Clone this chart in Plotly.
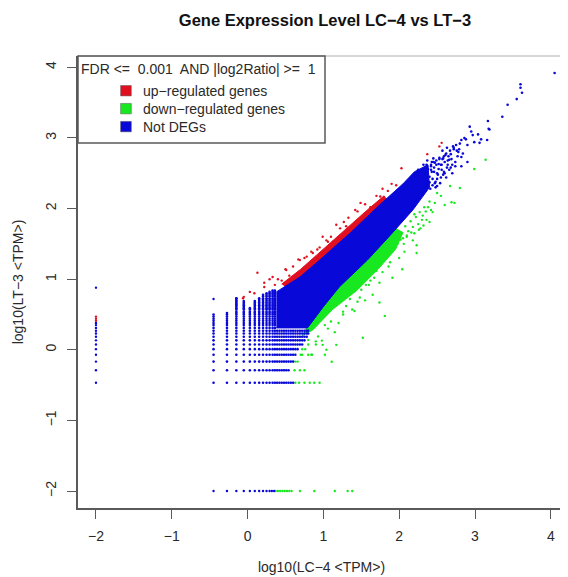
import plotly.graph_objects as go

# Discrete low-count levels
col_x = [-0.449, -0.272, -0.148, -0.05, 0.03, 0.095, 0.153, 0.204, 0.25, 0.29, 0.33, 0.36,
         0.39, 0.42, 0.45, 0.48, 0.51, 0.54, 0.57, 0.6, 0.63, 0.66, 0.69, 0.72, 0.75, 0.78, 0.8]
col_top = [0.5, 0.52, 0.73, 0.69, 0.6, 0.69, 0.73, 0.78, 0.8, 0.82, 0.84, 0.84,
           0.3, 0.3, 0.3, 0.3, 0.3, 0.3, 0.3, 0.3, 0.3, 0.3, 0.3, 0.3, 0.3, 0.3, 0.3]
row_y = [-0.466, -0.29, -0.167, -0.07, 0.009, 0.076, 0.134, 0.185, 0.23, 0.27, 0.31, 0.35, 0.38,
         0.41, 0.44, 0.47, 0.5, 0.52, 0.54, 0.57, 0.59, 0.61, 0.63, 0.65, 0.67, 0.69, 0.71, 0.73, 0.76, 0.78, 0.8, 0.82, 0.84]
row_xmax = [0.6, 0.55, 0.6, 0.65, 0.68, 0.72, 0.76, 0.78, 0.8, 0.8, 0.8, 0.8, 0.8,
            0.8, 0.8, 0.8, 0.8, 0.8, 0.8, 0.8, 0.8, 0.8, 0.8, 0.8, 0.8, 0.8, 0.8, 0.8, 0.8, 0.8, 0.8, 0.8, 0.8]

left_col_blue_y = [-0.466, -0.29, -0.167, -0.07, 0.009, 0.076, 0.134, 0.185, 0.23, 0.27, 0.31, 0.35, 0.38, 0.88]
left_col_red_y = [0.41, 0.44, 0.47]

bottom_blue_x = [-0.449, -0.272, -0.148, -0.05, 0.03, 0.095, 0.153, 0.204, 0.25, 0.29, 0.32, 0.35]
bottom_green_x = [0.37, 0.4, 0.43, 0.46, 0.49, 0.52, 0.55, 0.58, 0.69, 0.88, 1.15, 1.32, 1.38]
row_green_x = [0.63, 0.68, 0.75, 0.82, 0.88, 0.95, 0.62, 0.69, 0.75, 0.63, 0.66, 0.7, 0.72, 0.8, 0.85, 0.72, 0.76, 0.8, 0.9]
row_green_y = [-0.466, -0.466, -0.466, -0.466, -0.466, -0.466, -0.29, -0.29, -0.29, -0.167, -0.167, -0.07, -0.07, -0.07, -0.07, 0.009, 0.009, 0.076, 0.076]

# Dense bands: outlines
blue_band_x = [0.38, 0.69, 0.95, 1.35, 1.74, 2.05, 2.2, 2.38, 2.4, 2.18, 1.88, 1.58, 1.21, 1.0, 0.79, 0.38]
blue_band_y = [0.82, 1.03, 1.27, 1.65, 2.05, 2.35, 2.52, 2.62, 2.3, 1.98, 1.62, 1.27, 0.89, 0.61, 0.31, 0.31]
red_band_x = [0.45, 0.7, 0.92, 1.2, 1.58, 1.8, 1.85, 1.5, 1.0, 0.6]
red_band_y = [0.93, 1.14, 1.35, 1.62, 1.98, 2.18, 2.1, 1.75, 1.25, 0.8]
green_band_x = [0.72, 0.86, 1.12, 1.44, 1.72, 1.95, 2.05, 1.9, 1.5, 1.2, 0.9]
green_band_y = [0.2, 0.28, 0.57, 0.84, 1.14, 1.42, 1.66, 1.75, 1.35, 1.0, 0.6]

# Scattered points beyond the bands
red_x = [2.56, 2.53, 2.37, 2.03, 1.96, 1.75, 1.49, 1.33, 1.27, 1.17, 0.99, 1.13, 0.84, 0.67, 0.5, 0.13, 0.33, 0.22,
         0.03, 0.09, -0.06, 0.22, 0.51, 0.69, 0.86, 1.06, -0.148, -0.148, -0.148, -0.05, 0.29, 0.4, 0.6, 0.75, 0.95, 1.1, 1.3, 1.42, 1.62, 1.85,
         1.7, 1.78, 1.9, 1.55, 1.45, 1.22, 1.04, 0.92, 0.78, 0.55, 0.45, 0.36]
red_y = [2.93, 2.88, 2.77, 2.57, 2.33, 2.17, 2.08, 1.87, 1.81, 1.77, 1.6, 1.53, 1.39, 1.28, 1.14, 1.09, 1.03, 0.95,
         0.82, 0.8, 0.73, 0.89, 1.13, 1.27, 1.37, 1.53, 0.65, 0.69, 0.73, 0.75, 1.0, 1.0, 1.18, 1.3, 1.45, 1.6, 1.75, 1.98, 2.02, 2.25,
         2.18, 2.28, 2.35, 2.06, 1.96, 1.72, 1.55, 1.42, 1.32, 1.05, 0.98, 0.92]

green_x = [3.14, 2.99, 2.8, 2.67, 2.73, 2.69, 2.6, 2.47, 2.4, 2.44, 2.31, 2.23, 2.23, 2.07, 2.04, 1.91, 1.86, 1.67,
           1.65, 1.5, 1.56, 1.81, 1.74, 1.41, 1.26, 1.52, 1.17, 1.04, 1.11, 1.02, 0.99, 1.38, 1.26, 1.15, 0.84, 1.74, 1.62,
           1.95, 2.1, 2.2, 1.45, 1.35, 1.3, 1.55, 1.7, 1.02, 0.93, 0.98, 1.1, 2.0, 1.78,
           2.28, 2.38, 2.5, 2.55, 2.36, 2.18, 2.06, 1.88, 1.6, 1.48, 1.2, 1.06, 0.9, 0.8,
           2.08, 2.12, 2.15, 2.18, 2.22, 2.25, 2.27, 2.3, 2.33, 2.35, 2.4, 2.42, 2.05, 2.1, 2.16, 2.2, 2.26, 2.32, 1.98, 2.02]
green_y = [2.69, 2.56, 2.29, 2.32, 2.08, 2.09, 2.05, 2.08, 1.81, 1.95, 1.9, 1.48, 1.37, 1.39, 1.14, 1.02, 1.18, 1.02,
           0.78, 0.85, 0.92, 0.48, 0.67, 0.55, 0.54, 0.17, 0.07, 0.0, -0.17, -0.07, 0.07, 0.57, 0.5, 0.25, -0.07, 0.95, 0.98,
           1.45, 1.6, 1.65, 0.68, 0.72, 0.62, 0.7, 1.12, 0.35, 0.19, 0.13, 0.4, 1.3, 1.1,
           1.72, 2.02, 2.22, 2.18, 1.84, 1.55, 1.5, 1.24, 0.92, 0.74, 0.38, 0.3, 0.12, 0.14,
           1.75, 1.68, 1.82, 1.74, 1.88, 1.78, 1.95, 1.84, 2.02, 1.96, 2.1, 1.98, 1.58, 1.62, 1.66, 1.92, 1.7, 1.76, 1.5, 1.56]

blue_x = [4.05, 3.6, 3.6, 3.62, 3.55, 3.43, 3.36, 3.17, 3.18, 3.19, 3.16, 2.93, 2.97, 3.04, 3.06, 3.08, 2.9, 2.82, 2.71, 2.82, 2.9,
          2.82, 2.66, 2.58, 2.45, 2.36, 2.6, 2.7, 2.5, 2.24, 2.76, 2.86, 2.95, 2.99, 2.68, 2.74, 2.62, 2.55, 2.42, 2.48, 2.3, 2.2, 2.12,
          2.25, 2.28, 2.33, 2.36, 2.4, 2.42, 2.44, 2.46, 2.5, 2.52, 2.54, 2.56, 2.58, 2.6, 2.62, 2.64, 2.66, 2.3, 2.34, 2.38, 2.41, 2.47, 2.53,
          2.32, 2.37, 2.43, 2.49, 2.57, 2.63, 2.69, 2.72, 2.78,
          2.42, 2.44, 2.46, 2.47, 2.49, 2.5, 2.51, 2.53, 2.55, 2.57, 2.59, 2.61, 2.63, 2.65, 2.67, 2.7, 2.72, 2.74, 2.77, 2.8, 2.84, 2.88,
          2.43, 2.45, 2.48, 2.52, 2.56, 2.59, 2.64, 2.68, 2.75, 2.79, 2.15, 2.22, 2.28, 2.35, 2.4]
blue_y = [3.92, 3.76, 3.71, 3.64, 3.55, 3.47, 3.3, 3.24, 3.13, 3.12, 2.97, 3.16, 3.04, 3.05, 2.93, 2.98, 2.9, 2.97, 2.88, 2.73, 2.66,
          2.6, 2.69, 2.71, 2.71, 2.62, 2.5, 2.5, 2.5, 2.5, 2.82, 3.0, 3.09, 2.94, 2.77, 2.6, 2.78, 2.62, 2.55, 2.38, 2.34, 2.18, 2.16,
          2.55, 2.42, 2.5, 2.38, 2.45, 2.6, 2.33, 2.52, 2.42, 2.63, 2.36, 2.55, 2.48, 2.66, 2.44, 2.62, 2.55, 2.24, 2.3, 2.56, 2.28, 2.65, 2.7,
          2.62, 2.68, 2.66, 2.62, 2.82, 2.86, 2.7, 2.84, 2.8,
          2.62, 2.42, 2.58, 2.36, 2.68, 2.32, 2.48, 2.72, 2.44, 2.7, 2.52, 2.76, 2.58, 2.74, 2.82, 2.62, 2.86, 2.66, 2.74, 2.92, 2.78, 2.98,
          2.52, 2.66, 2.3, 2.56, 2.62, 2.74, 2.68, 2.58, 2.9, 2.84, 2.22, 2.28, 2.24, 2.34, 2.37]

legend_title = "FDR <=  0.001  AND |log2Ratio| >=  1"
legend_labels = ["up\u2212regulated genes", "down\u2212regulated genes", "Not DEGs"]
RED, GREEN, BLUE = "#e01020", "#18e820", "#0808d8"
legend_colors = [RED, GREEN, BLUE]
INK = "#2a2a2a"
AXIS = "#5a5a5a"

fig = go.Figure()


def band(x, y, color):
    fig.add_trace(go.Scatter(x=x, y=y, mode="lines", fill="toself", fillcolor=color,
                             line=dict(color=color, width=1), hoverinfo="skip", showlegend=False))


def dots(x, y, color, size=2.4):
    fig.add_trace(go.Scatter(x=x, y=y, mode="markers", showlegend=False,
                             marker=dict(color=color, size=size, line=dict(width=0))))


band(red_band_x, red_band_y, RED)
band(green_band_x, green_band_y, GREEN)
dots(red_x, red_y, RED)
dots(green_x, green_y, GREEN)
dots(bottom_green_x, [-2] * len(bottom_green_x), GREEN)
dots(row_green_x, row_green_y, GREEN)

grid_x, grid_y = [], []
for yv, xmax in zip(row_y, row_xmax):
    for xv, top in zip(col_x, col_top):
        if xv <= xmax and yv <= top:
            grid_x.append(xv)
            grid_y.append(yv)
dots(grid_x, grid_y, BLUE, 2.6)
band(blue_band_x, blue_band_y, BLUE)
dots(blue_x, blue_y, BLUE, 2.6)
dots(bottom_blue_x, [-2] * len(bottom_blue_x), BLUE)
dots([-2] * len(left_col_blue_y), left_col_blue_y, BLUE)
dots([-2] * len(left_col_red_y), left_col_red_y, RED)
dots([-0.449], [0.72], BLUE)

font = dict(family="Liberation Sans", size=14, color=INK)
shapes = [
    dict(type="line", xref="paper", yref="paper", x0=0, x1=1, y0=1, y1=1, line=dict(color="#b0b0b0", width=1), layer="below"),
    dict(type="line", xref="paper", yref="paper", x0=1, x1=1, y0=0, y1=1, line=dict(color="#e0e0e0", width=1), layer="below"),
    dict(type="rect", xref="paper", yref="paper", x0=0, x1=0.5072, y0=0.8075, y1=1, line=dict(color=AXIS, width=1.5)),
]
annotations = [dict(text=legend_title, xref="paper", yref="paper", x=0.0025, y=0.9712, xanchor="left", yanchor="middle",
                    showarrow=False, font=font)]
for i, (lab, colr) in enumerate(zip(legend_labels, legend_colors)):
    yc = 0.9232 - i * 0.0397
    shapes.append(dict(type="rect", xref="paper", yref="paper", x0=0.0875, x1=0.1095, y0=yc - 0.0115, y1=yc + 0.0115,
                       fillcolor=colr, line=dict(color="#555555", width=0.5)))
    annotations.append(dict(text=lab, xref="paper", yref="paper", x=0.13, y=yc, xanchor="left", yanchor="middle",
                            showarrow=False, font=font))

fig.update_layout(
    width=560, height=569, margin=dict(l=70, r=3, t=48, b=69), autosize=False,
    paper_bgcolor="white", plot_bgcolor="white", showlegend=False,
    font=font, shapes=shapes, annotations=annotations,
    title=dict(text="<b>Gene Expression Level LC\u22124 vs LT\u22123</b>", x=0.566, xanchor="center", y=0.979, yanchor="middle",
               font=dict(family="Liberation Sans", size=16.5, color="#111111")),
    xaxis=dict(range=[-2.237, 4.187], tickvals=[-2, -1, 0, 1, 2, 3, 4], ticks="outside", ticklen=9, tickcolor=AXIS,
               ticklabelstandoff=5,
               showgrid=False, zeroline=False, showline=True, linecolor=AXIS, linewidth=1.5,
               title=dict(text="log10(LC\u22124 &lt;TPM&gt;)", standoff=20, font=font)),
    yaxis=dict(range=[-2.24, 4.16], tickvals=[-2, -1, 0, 1, 2, 3, 4], ticks="outside", ticklen=9, tickcolor=AXIS, tickangle=-90,
               ticklabelstandoff=6,
               showgrid=False, zeroline=False, showline=True, linecolor=AXIS, linewidth=1.5,
               title=dict(text="log10(LT\u22123 &lt;TPM&gt;)", standoff=16, font=font)),
)
fig.write_html("out.html")
